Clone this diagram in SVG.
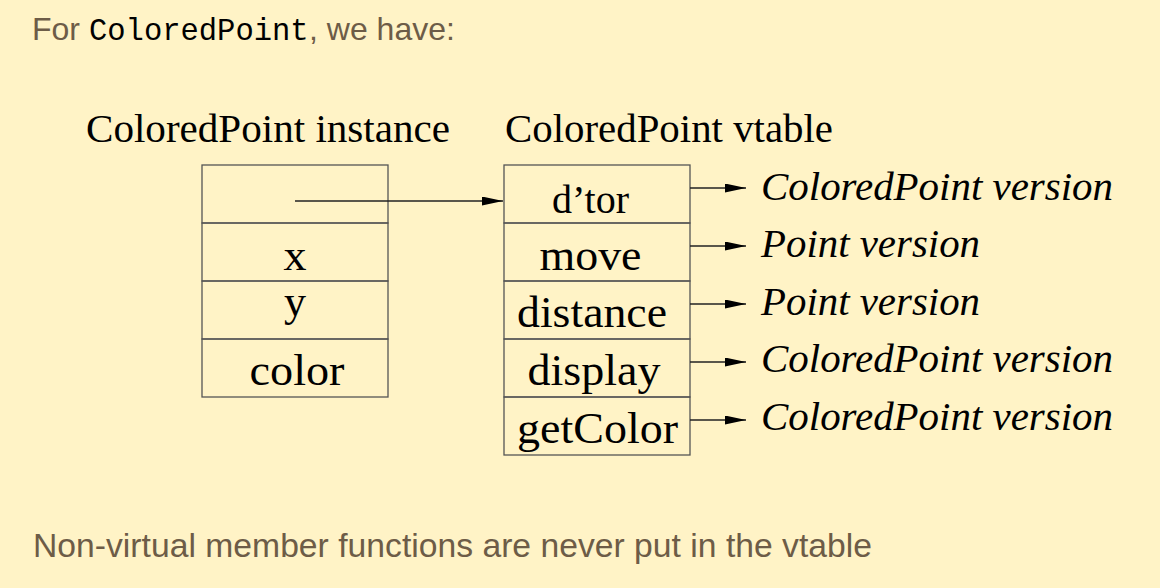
<svg xmlns="http://www.w3.org/2000/svg" width="1160" height="588" viewBox="0 0 1160 588">
<style>
.bg{fill:#fff3c6}
.sans{font-family:"Liberation Sans","DejaVu Sans",sans-serif;fill:#6d5c47;font-size:32px}
.mono{font-family:"Liberation Mono","DejaVu Sans Mono",monospace;fill:#000;font-size:30.5px}
.serif{font-family:"Liberation Serif","Times New Roman",serif;fill:#000;font-size:45px}
.hdr{font-size:40px}
.small{font-size:40px}
.it{font-style:italic;font-size:39px}
.cell{fill:none;stroke:#555;stroke-width:1.3}
.conn{fill:none;stroke:#222;stroke-width:1.3}
</style>
<defs>
<marker id="ah" markerUnits="userSpaceOnUse" markerWidth="22" markerHeight="10" refX="21" refY="4.5" orient="auto">
<path d="M0,0 L21,4.5 L0,9 z" fill="#000"/>
</marker>
</defs>
<rect class="bg" x="0" y="0" width="1160" height="588"/>

<g id="title">
<text class="sans" x="32" y="40">For <tspan class="mono" x="89">ColoredPoint</tspan><tspan x="309">, we have:</tspan></text>
</g>

<g id="instance">
<text class="serif hdr" x="86" y="142" textLength="364" lengthAdjust="spacingAndGlyphs">ColoredPoint instance</text>
<rect class="cell" x="202" y="165" width="186" height="58"/>
<rect class="cell" x="202" y="223" width="186" height="58"/>
<rect class="cell" x="202" y="281" width="186" height="58"/>
<rect class="cell" x="202" y="339" width="186" height="58"/>
<text class="serif" x="283.5" y="270" textLength="23" lengthAdjust="spacingAndGlyphs">x</text>
<text class="serif" x="284" y="316" textLength="22" lengthAdjust="spacingAndGlyphs">y</text>
<text class="serif" x="249.5" y="385" textLength="95" lengthAdjust="spacingAndGlyphs">color</text>
</g>

<g id="vtable">
<text class="serif hdr" x="505" y="142" textLength="328" lengthAdjust="spacingAndGlyphs">ColoredPoint vtable</text>
<rect class="cell" x="504" y="165" width="186" height="58"/>
<rect class="cell" x="504" y="223" width="186" height="58"/>
<rect class="cell" x="504" y="281" width="186" height="58"/>
<rect class="cell" x="504" y="339" width="186" height="58"/>
<rect class="cell" x="504" y="397" width="186" height="58"/>
<text class="serif small" x="552" y="212.5" textLength="77" lengthAdjust="spacingAndGlyphs">d’tor</text>
<text class="serif" x="539.5" y="270" textLength="102" lengthAdjust="spacingAndGlyphs">move</text>
<text class="serif" x="517" y="327" textLength="150" lengthAdjust="spacingAndGlyphs">distance</text>
<text class="serif" x="527.5" y="385" textLength="133" lengthAdjust="spacingAndGlyphs">display</text>
<text class="serif" x="517" y="443" textLength="161" lengthAdjust="spacingAndGlyphs">getColor</text>
</g>

<g id="targets">
<text class="serif it" x="761" y="200" textLength="352" lengthAdjust="spacingAndGlyphs">ColoredPoint version</text>
<text class="serif it" x="761" y="257" textLength="219" lengthAdjust="spacingAndGlyphs">Point version</text>
<text class="serif it" x="761" y="315" textLength="219" lengthAdjust="spacingAndGlyphs">Point version</text>
<text class="serif it" x="761" y="372" textLength="352" lengthAdjust="spacingAndGlyphs">ColoredPoint version</text>
<text class="serif it" x="761" y="430" textLength="352" lengthAdjust="spacingAndGlyphs">ColoredPoint version</text>
</g>

<g id="connectors">
<line class="conn" x1="295" y1="201" x2="503" y2="201" marker-end="url(#ah)"/>
<line class="conn" x1="690" y1="188" x2="746" y2="188" marker-end="url(#ah)"/>
<line class="conn" x1="690" y1="246" x2="746" y2="246" marker-end="url(#ah)"/>
<line class="conn" x1="690" y1="304" x2="746" y2="304" marker-end="url(#ah)"/>
<line class="conn" x1="690" y1="362" x2="746" y2="362" marker-end="url(#ah)"/>
<line class="conn" x1="690" y1="420" x2="746" y2="420" marker-end="url(#ah)"/>
</g>

<g id="footer">
<text class="sans" x="33" y="557" style="font-size:33px" textLength="839" lengthAdjust="spacingAndGlyphs">Non-virtual member functions are never put in the vtable</text>
</g>
</svg>
